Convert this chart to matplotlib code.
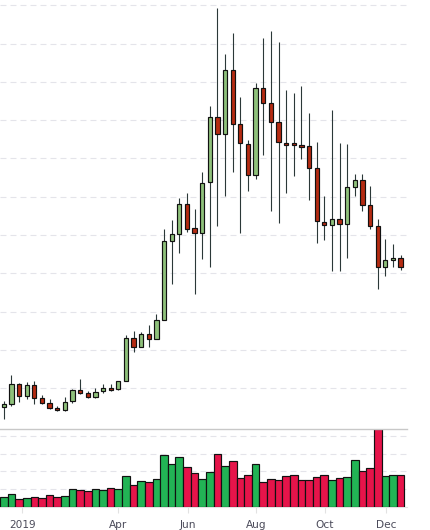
import matplotlib
matplotlib.use("Agg")
import matplotlib.pyplot as plt
import numpy as np

# weekly candles
opens = [3504, 3582, 4104, 3791, 4078, 3739, 3608, 3478, 3440, 3660,
         3948, 3869, 3765, 3922, 4000, 3974, 4183, 5305, 5070, 5410,
         5279, 5775, 7838, 8021, 8804, 8178, 8047, 9378, 11076, 10632,
         12303, 10893, 10371, 9561, 11833, 11441, 10945, 10397, 10397, 10345,
         10319, 9744, 8334, 8256, 8412, 8282, 9248, 9431, 8778, 8230,
         7159, 7342, 7394]
closes = [3582, 4104, 3791, 4078, 3739, 3608, 3478, 3425, 3634, 3948,
          3869, 3765, 3895, 4000, 3948, 4183, 5305, 5070, 5410, 5279,
          5775, 7838, 8021, 8804, 8151, 8047, 9352, 11076, 10632, 12303,
          10893, 10397, 9561, 11833, 11441, 10945, 10423, 10345, 10345, 10292,
          9744, 8360, 8256, 8412, 8282, 9248, 9431, 8778, 8230, 7159,
          7342, 7394, 7159]
highs = [3668, 4347, 4138, 4164, 4190, 3817, 3713, 3530, 3765, 3974,
         4243, 3922, 4000, 4104, 4104, 4190, 5392, 5496, 5462, 5653,
         5940, 8159, 8394, 8961, 9099, 8681, 9640, 11363, 13922, 12721,
         13277, 11598, 10475, 11963, 13146, 13329, 13042, 11796, 11718, 11893,
         11180, 10423, 9013, 11258, 10397, 10371, 9587, 9587, 9274, 8412,
         7890, 7760, 7472]
lows = [3206, 3530, 3650, 3728, 3582, 3582, 3452, 3407, 3399, 3608,
        3843, 3739, 3745, 3869, 3930, 3948, 4183, 4955, 5070, 5070,
        5279, 5775, 6715, 7525, 8073, 6454, 7368, 7159, 8230, 9029,
        9655, 8047, 9144, 9457, 10083, 8637, 8308, 9091, 9535, 9979,
        8903, 7786, 7864, 7055, 7055, 7394, 9013, 8621, 8151, 6585,
        6924, 7159, 7081]
volumes = [53, 70, 42, 47, 53, 47, 64, 53, 59, 98,
           93, 87, 98, 93, 104, 98, 172, 121, 144, 138,
           155, 290, 240, 279, 223, 189, 155, 194, 296, 228,
           256, 160, 177, 240, 138, 155, 149, 172, 177, 149,
           149, 166, 177, 149, 160, 166, 262, 200, 217, 437,
           172, 177, 177]

tick_pos = [2.42, 15.0, 24.1, 33.1, 42.1, 50.1]
tick_labels = ['2019', 'Apr', 'Jun', 'Aug', 'Oct', 'Dec']

plt.rcParams['lines.scale_dashes'] = False

o = np.array(opens)
c = np.array(closes)
up = c >= o
x = np.arange(len(o))

fig = plt.figure(figsize=(4.3, 5.3), dpi=100)
W = 407 / 430
ax = fig.add_axes([0, 100.7 / 530, W, 429.3 / 530])
axv = fig.add_axes([0, 23.3 / 530, W, 77.4 / 530])

grid_col = '#e4e4ea'
dash = (0, (4.3, 2.9))

# price panel
ax.set_xlim(-0.5, 52.84)
ax.set_ylim(2929, 14138)
ax.set_yticks(np.arange(4000, 14001, 1000))
ax.yaxis.grid(True, color=grid_col, linewidth=0.8, linestyle=dash, zorder=0)
ax.set_axisbelow(True)
ax.tick_params(left=False, bottom=False, labelleft=False, labelbottom=False)
for s in ax.spines.values():
    s.set_visible(False)

ax.vlines(x, lows, highs, color='#2b3838', linewidth=0.8, zorder=2)
body_col = np.where(up, '#8fc17b', '#b52b12')
ax.bar(x, np.abs(c - o), bottom=np.minimum(o, c), width=0.56,
       color=body_col, edgecolor='#111111', linewidth=0.85, zorder=3)

# volume panel
axv.set_xlim(-0.5, 52.84)
axv.set_ylim(0, max(volumes))
axv.set_yticks([100, 200, 300, 400])
axv.yaxis.grid(True, color=grid_col, linewidth=0.8, linestyle=dash, zorder=0)
axv.set_axisbelow(True)
vol_col = np.where(up, '#22b455', '#e6144a')
axv.bar(x, volumes, width=1.0, color=vol_col, edgecolor='#111111',
        linewidth=0.85, zorder=3)
for name, s in axv.spines.items():
    s.set_visible(name in ('top', 'bottom'))
axv.spines['top'].set_color('#c8c8c8')
axv.spines['top'].set_linewidth(1.0)
axv.spines['bottom'].set_color('#e2e2e2')
axv.spines['bottom'].set_linewidth(0.8)
axv.spines['top'].set_zorder(5)
axv.set_xticks(tick_pos)
axv.set_xticklabels(tick_labels)
axv.tick_params(left=False, labelleft=False, axis='x', length=4.3,
                width=0.8, color='#e2e2e2', pad=5, labelsize=7.6,
                labelcolor='#4b4b5a')
axv.tick_params(axis='y', left=False, labelleft=False)

fig.savefig('out.png', dpi=100)
